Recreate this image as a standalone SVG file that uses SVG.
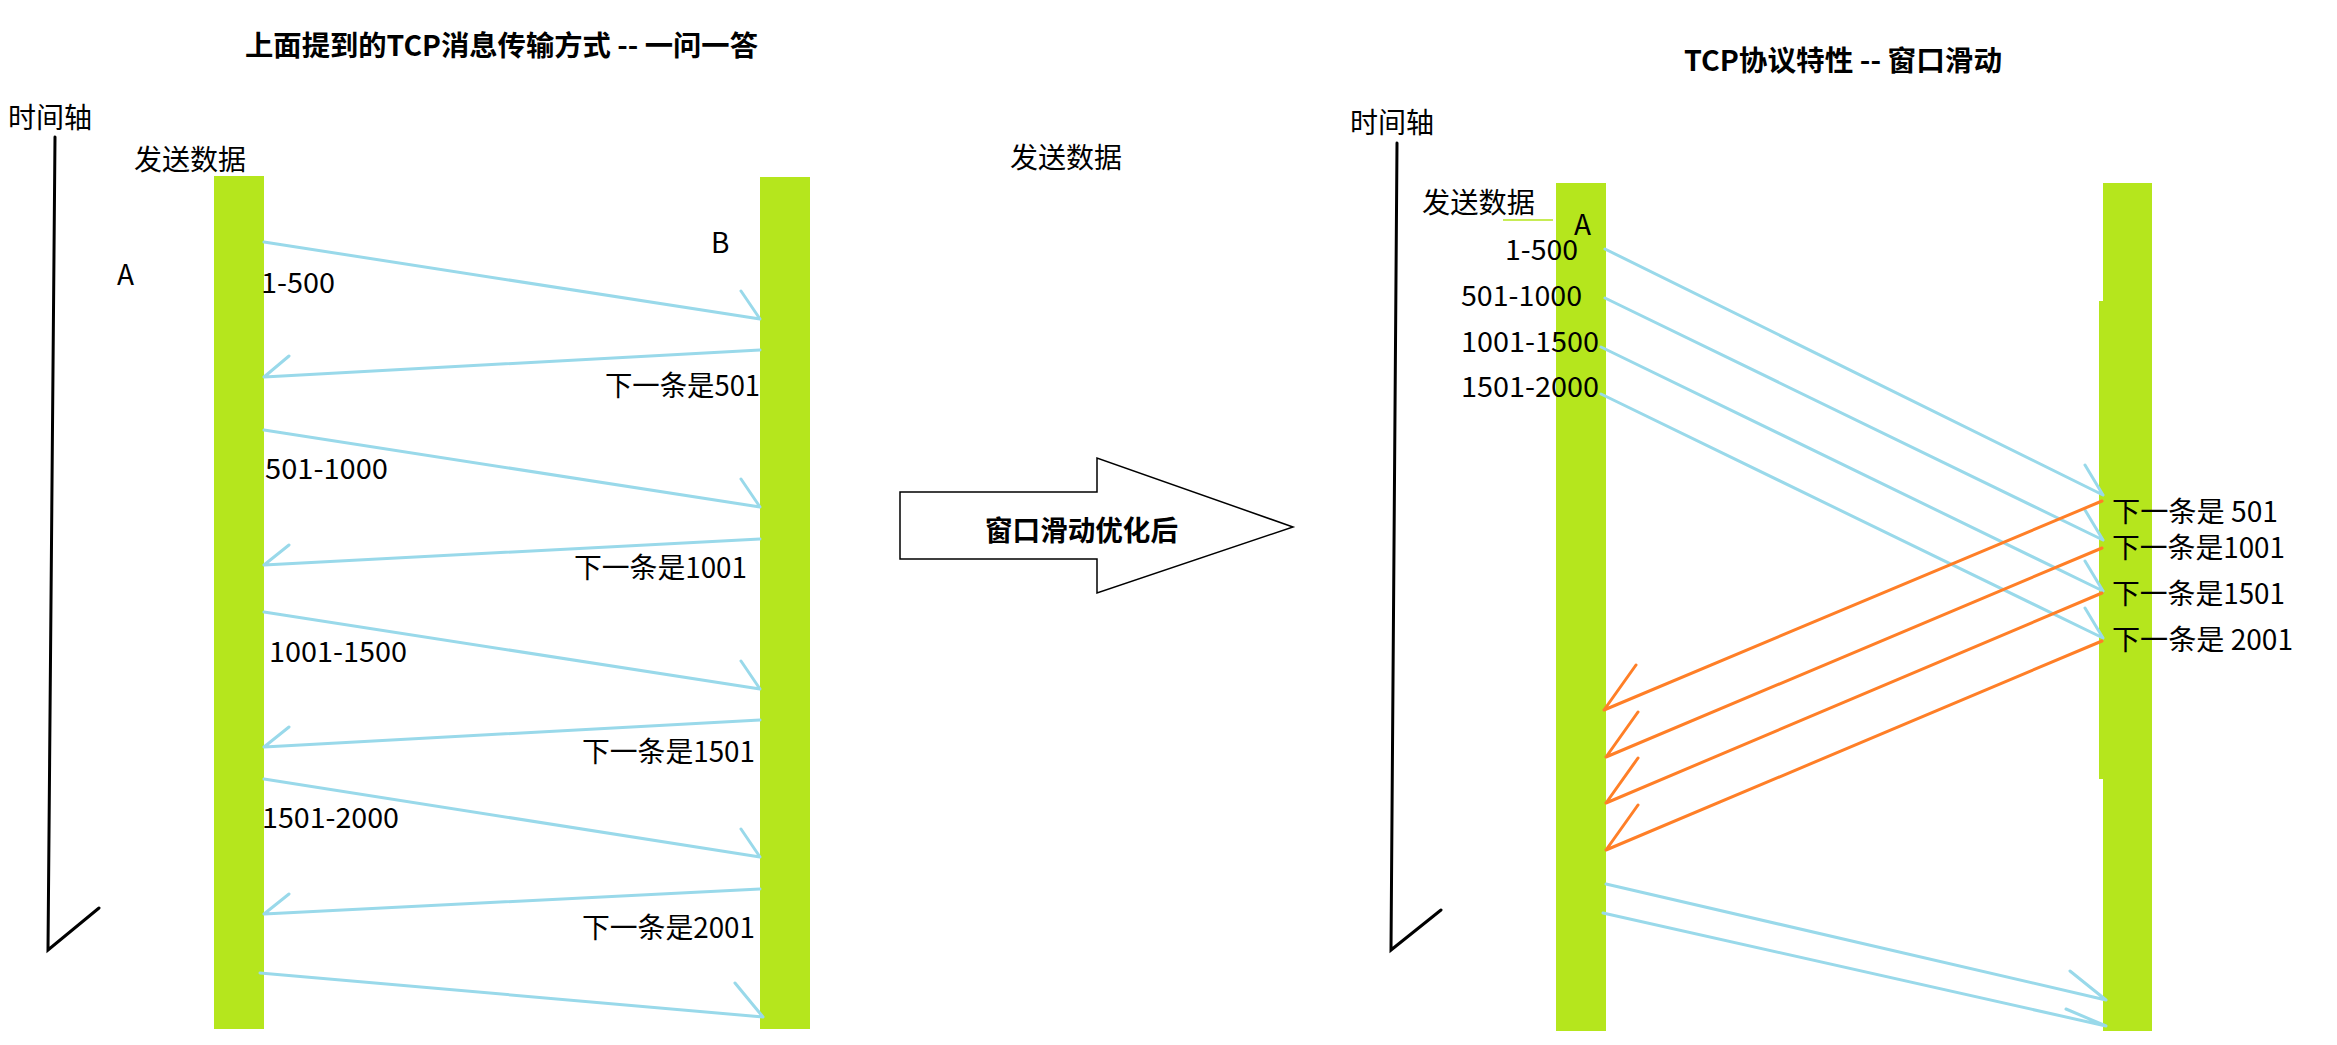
<svg xmlns="http://www.w3.org/2000/svg" width="2337" height="1045" viewBox="0 0 2337 1045">
<style>
.bar{fill:#b5e61d}
.blue{stroke:#99d9ea;stroke-width:3;fill:none;stroke-linecap:round}
.orange{stroke:#ff7f27;stroke-width:3;fill:none;stroke-linecap:round}
.axis{stroke:#000;stroke-width:3;fill:none;stroke-linecap:round}
.t{font-family:"Noto Sans CJK SC","Liberation Sans",sans-serif;font-size:28px;fill:#000}
.b{font-weight:bold}
</style>
<rect width="2337" height="1045" fill="#fff"/>
<g id="titles">
<text class="t b" x="245" y="56" textLength="513" lengthAdjust="spacingAndGlyphs">上面提到的TCP消息传输方式 -- 一问一答</text>
<text class="t b" x="1684" y="71" textLength="318" lengthAdjust="spacingAndGlyphs">TCP协议特性 -- 窗口滑动</text>
</g>
<g id="left-axis">
<path class="axis" d="M55,137 L48,950 L99,908"/>
<text class="t" x="8" y="128" textLength="84" lengthAdjust="spacingAndGlyphs">时间轴</text>
</g>
<g id="left-A">
<rect class="bar" x="214" y="176" width="50" height="853"/>
<text class="t" x="134" y="170" textLength="112" lengthAdjust="spacingAndGlyphs">发送数据</text>
<text class="t" x="117" y="285">A</text>
</g>
<g id="left-B">
<rect class="bar" x="760" y="177" width="50" height="852"/>
<text class="t" x="711" y="253">B</text>
</g>
<g id="transform-arrow">
<polygon points="900,492 1097,492 1097,458 1293,527 1097,593 1097,559 900,559" fill="#fff" stroke="#000" stroke-width="1.5"/>
<text class="t b" x="985" y="541" textLength="193" lengthAdjust="spacingAndGlyphs">窗口滑动优化后</text>
<text class="t" x="1010" y="168" textLength="112" lengthAdjust="spacingAndGlyphs">发送数据</text>
</g>
<g id="right-axis">
<path class="axis" d="M1397,143 L1391,950 L1441,910"/>
<text class="t" x="1350" y="133" textLength="84" lengthAdjust="spacingAndGlyphs">时间轴</text>
</g>
<g id="right-A">
<rect class="bar" x="1556" y="183" width="50" height="848"/>
<text class="t" x="1422" y="213" textLength="113" lengthAdjust="spacingAndGlyphs">发送数据</text>
<line x1="1503" y1="220" x2="1553" y2="220" stroke="#b5e61d" stroke-width="1.5"/>
<text class="t" x="1574" y="235">A</text>
<text class="t" x="1505" y="260" textLength="73" lengthAdjust="spacingAndGlyphs">1-500</text>
<text class="t" x="1461" y="306" textLength="121" lengthAdjust="spacingAndGlyphs">501-1000</text>
<text class="t" x="1461" y="352" textLength="138" lengthAdjust="spacingAndGlyphs">1001-1500</text>
<text class="t" x="1461" y="397" textLength="138" lengthAdjust="spacingAndGlyphs">1501-2000</text>
</g>
<g id="right-B">
<rect class="bar" x="2103" y="183" width="49" height="848"/>
<rect class="bar" x="2099" y="301" width="5" height="478"/>
<text class="t" x="2112" y="522" textLength="166" lengthAdjust="spacingAndGlyphs">下一条是 501</text>
<text class="t" x="2112" y="558" textLength="173" lengthAdjust="spacingAndGlyphs">下一条是1001</text>
<text class="t" x="2112" y="604" textLength="173" lengthAdjust="spacingAndGlyphs">下一条是1501</text>
<text class="t" x="2112" y="650" textLength="181" lengthAdjust="spacingAndGlyphs">下一条是 2001</text>
</g>
<g id="connectors">
<path class="blue" d="M264,242 L760,319 M760,319 L741,291"/>
<path class="blue" d="M760,350 L264,377 M264,377 L289,356"/>
<path class="blue" d="M264,430 L760,507 M760,507 L741,479"/>
<path class="blue" d="M760,539 L264,565 M264,565 L289,545"/>
<path class="blue" d="M264,612 L760,689 M760,689 L741,661"/>
<path class="blue" d="M760,720 L264,747 M264,747 L289,727"/>
<path class="blue" d="M264,779 L760,857 M760,857 L741,829"/>
<path class="blue" d="M760,889 L264,914 M264,914 L289,894"/>
<path class="blue" d="M260,973 L763,1017 M763,1017 L735,983"/>
<path class="blue" d="M1605,249 L2103,495 M2103,495 L2085,465"/>
<path class="blue" d="M1605,298 L2103,540 M2103,540 L2085,510"/>
<path class="blue" d="M1601,347 L2103,591 M2103,591 L2085,561"/>
<path class="blue" d="M1601,394 L2103,638 M2103,638 L2085,608"/>
<path class="orange" d="M2102,501 L1604,710 M1604,710 L1636,665"/>
<path class="orange" d="M2102,548 L1606,757 M1606,757 L1638,712"/>
<path class="orange" d="M2102,593 L1606,803 M1606,803 L1638,758"/>
<path class="orange" d="M2102,641 L1606,850 M1606,850 L1638,805"/>
<path class="blue" d="M1606,884 L2106,1000 M2106,1000 L2070,971"/>
<path class="blue" d="M1603,913 L2106,1026 M2106,1026 L2066,1009"/>
</g>
<g id="left-labels">
<text class="t" x="261" y="293" textLength="74" lengthAdjust="spacingAndGlyphs">1-500</text>
<text class="t" x="605" y="396" textLength="155" lengthAdjust="spacingAndGlyphs">下一条是501</text>
<text class="t" x="265" y="479" textLength="123" lengthAdjust="spacingAndGlyphs">501-1000</text>
<text class="t" x="574" y="578" textLength="173" lengthAdjust="spacingAndGlyphs">下一条是1001</text>
<text class="t" x="269" y="662" textLength="138" lengthAdjust="spacingAndGlyphs">1001-1500</text>
<text class="t" x="582" y="762" textLength="173" lengthAdjust="spacingAndGlyphs">下一条是1501</text>
<text class="t" x="262" y="828" textLength="137" lengthAdjust="spacingAndGlyphs">1501-2000</text>
<text class="t" x="582" y="938" textLength="173" lengthAdjust="spacingAndGlyphs">下一条是2001</text>
</g>
</svg>
